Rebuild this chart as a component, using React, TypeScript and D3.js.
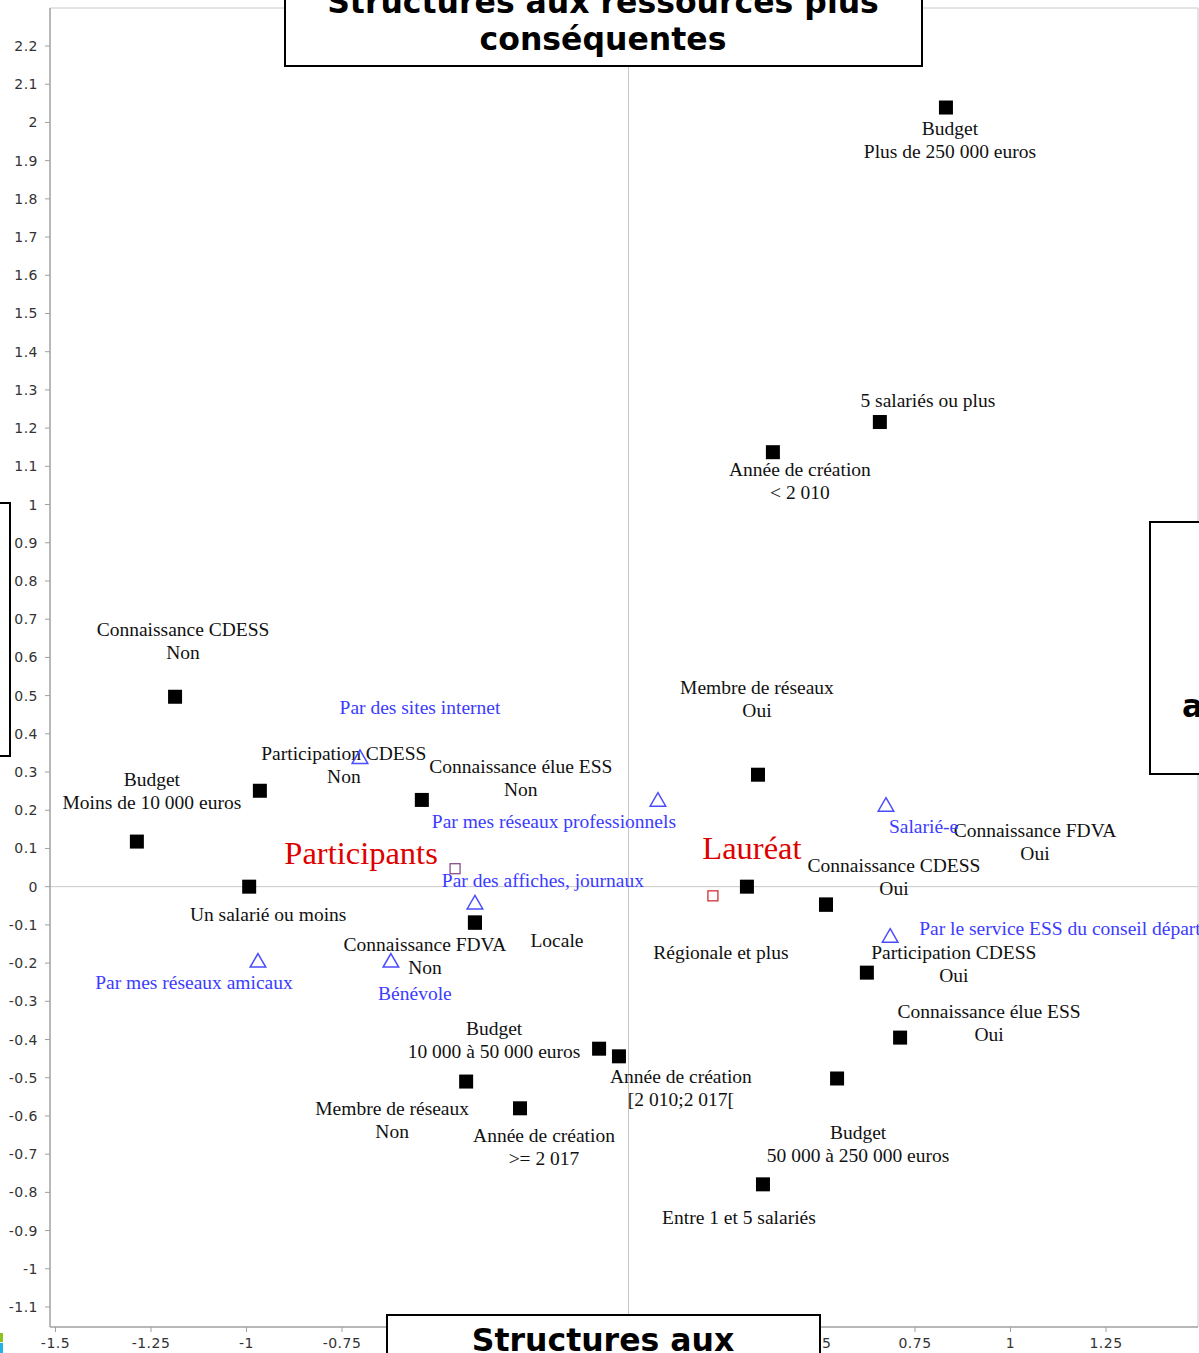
import React from "react";
import * as d3 from "d3";

// ---- Data (MCA coordinates) ----
const activeNames = [
  "Budget\nPlus de 250 000 euros",
  "5 salariés ou plus",
  "Année de création\n< 2 010",
  "Connaissance CDESS\nNon",
  "Membre de réseaux\nOui",
  "Budget\nMoins de 10 000 euros",
  "Participation CDESS\nNon",
  "Connaissance élue ESS\nNon",
  "Un salarié ou moins",
  "Régionale et plus",
  "Connaissance CDESS\nOui",
  "Connaissance FDVA\nOui",
  "Participation CDESS\nOui",
  "Connaissance élue ESS\nOui",
  "Budget\n10 000 à 50 000 euros",
  "Année de création\n[2 010;2 017[",
  "Membre de réseaux\nNon",
  "Année de création\n>= 2 017",
  "Budget\n50 000 à 250 000 euros",
  "Entre 1 et 5 salariés",
  "Connaissance FDVA\nNon",
  "Locale",
];
const activeX = [0.831, 0.658, 0.378, -1.187, 0.339, -1.287, -0.965, -0.541, -0.993, 0.310, 0.517, 0.517, 0.624, 0.711, -0.077, -0.025, -0.425, -0.284, 0.546, 0.352, -0.402, -0.402];
const activeY = [2.039, 1.216, 1.137, 0.497, 0.293, 0.118, 0.251, 0.227, 0.0, 0.0, -0.047, -0.047, -0.225, -0.395, -0.424, -0.444, -0.510, -0.580, -0.502, -0.779, -0.094, -0.094];

const suppNames = [
  "Par des sites internet",
  "Par mes réseaux professionnels",
  "Salarié-e",
  "Par des affiches, journaux",
  "Par le service ESS du conseil départemental",
  "Par mes réseaux amicaux",
  "Bénévole",
];
const suppX = [-0.703, 0.077, 0.674, -0.402, 0.685, -0.970, -0.622];
const suppY = [0.337, 0.225, 0.212, -0.044, -0.131, -0.196, -0.196];

const groupNames = ["Participants", "Lauréat"];
const groupX = [-0.454, 0.221];
const groupY = [0.047, -0.024];

const xTickValues = [-1.5, -1.25, -1, -0.75, -0.5, -0.25, 0, 0.25, 0.5, 0.75, 1, 1.25];
const yTickValues = d3.range(-11, 23).map((i) => i / 10);

const boxTop = ["Structures aux ressources plus", "conséquentes"];
const boxBottom = ["Structures aux"];
const boxRight = ["aux"];

// ---- Layout (label offsets in px from their point; anchor) ----
const activeLabelOffsets: [number, number][] = [
  [4, 21], [48, -22], [27, 17], [8, -67], [-1, -87], [15, -62], [84, -37], [99, -33],
  [19, 28], [-26, 66], [68, -39], [209, -74], [87, -20], [89, -26], [-105, -20], [62, 20],
  [-74, 27], [24, 27], [21, 54], [-24, 33], [-50, 22], [82, 18],
];
const suppLabelOffsets: [number, number, string][] = [
  [60, -50, "middle"], [-104, 21, "middle"], [3, 21, "start"], [68, -23, "middle"],
  [29, -8, "start"], [-64, 21, "middle"], [24, 32, "middle"],
];
const groupLabelOffsets: [number, number][] = [[-94, -16], [39, -48]];

const W = 1199;
const H = 1353;
const LEFT = 50, RIGHT = 1198, TOP = 8, BOTTOM = 1327;
const BB_X0 = 387, BB_X1 = 820;

const fmt = (v: number) => String(+v.toFixed(2));

export default function App() {
  const x = d3.scaleLinear().domain([-1.5, 1.25]).range([55.5, 1106]);
  const y = d3.scaleLinear().domain([-1.1, 2.2]).range([1307, 46]);

  const serif = "'Liberation Serif', 'Times New Roman', serif";
  const sans = "'DejaVu Sans', Verdana, sans-serif";
  const lineH = 23;
  const sq = 14;
  const tri = d3.symbol().type(d3.symbolTriangle).size(105);

  const multiline = (txt: string, cx: number, cy: number, anchor: string, color: string, size: number, key: string) => (
    <text key={key} x={cx} y={cy} textAnchor={anchor as any} fill={color} fontFamily={serif} fontSize={size}>
      {txt.split("\n").map((l, i) => (
        <tspan key={i} x={cx} y={cy + i * lineH} dominantBaseline="central">{l}</tspan>
      ))}
    </text>
  );

  // tick labels fully hidden behind the bottom annotation box are not drawn
  const visibleXTicks = xTickValues.filter((v) => x(v) + 12 < BB_X0 || x(v) > BB_X1 - 12);

  return (
    <svg width={W} height={H} style={{ position: "absolute", left: 0, top: 0, display: "block", background: "#fff" }}>
      <rect x={0} y={0} width={W} height={H} fill="#fff" />
      {/* frame */}
      <line x1={LEFT} x2={RIGHT} y1={TOP} y2={TOP} stroke="#c8c8c8" />
      <line x1={RIGHT} x2={RIGHT} y1={TOP} y2={BOTTOM} stroke="#c8c8c8" />
      {/* zero lines */}
      <line x1={x(0)} x2={x(0)} y1={TOP} y2={BOTTOM} stroke="#c8c8c8" />
      <line x1={LEFT} x2={RIGHT} y1={y(0)} y2={y(0)} stroke="#c8c8c8" />
      {/* axes */}
      <line x1={LEFT} x2={LEFT} y1={TOP} y2={BOTTOM} stroke="#a0a0a0" strokeWidth={1.5} />
      <line x1={LEFT} x2={RIGHT} y1={BOTTOM} y2={BOTTOM} stroke="#a0a0a0" strokeWidth={1.5} />
      {yTickValues.map((v) => (
        <g key={"yt" + v}>
          <line x1={LEFT - 5} x2={LEFT} y1={y(v)} y2={y(v)} stroke="#a0a0a0" />
          <text x={38} y={y(v)} textAnchor="end" dominantBaseline="central" fontFamily={sans} fontSize={14} letterSpacing={0.5} fill="#333">{fmt(v)}</text>
        </g>
      ))}
      {xTickValues.map((v) => (
        <line key={"xtl" + v} x1={x(v)} x2={x(v)} y1={BOTTOM} y2={BOTTOM + 5} stroke="#a0a0a0" />
      ))}
      {visibleXTicks.map((v) => (
        <text key={"xt" + v} x={x(v)} y={1343} textAnchor="middle" dominantBaseline="central" fontFamily={sans} fontSize={14} letterSpacing={0.5} fill="#333">{fmt(v)}</text>
      ))}

      {/* active modalities */}
      {activeNames.map((n, i) => (
        <rect key={"sq" + i} x={x(activeX[i]) - sq / 2} y={y(activeY[i]) - sq / 2} width={sq} height={sq} fill="#000" />
      ))}
      {activeNames.map((n, i) =>
        multiline(n, x(activeX[i]) + activeLabelOffsets[i][0], y(activeY[i]) + activeLabelOffsets[i][1], "middle", "#111", 19.5, "al" + i)
      )}

      {/* supplementary (blue triangles) */}
      {suppNames.map((n, i) => (
        <path key={"tr" + i} d={tri() as string} transform={`translate(${x(suppX[i])},${y(suppY[i]) + 1})`} fill="none" stroke="#4b4bff" strokeWidth={1.5} />
      ))}
      {suppNames.map((n, i) =>
        multiline(n, x(suppX[i]) + suppLabelOffsets[i][0], y(suppY[i]) + suppLabelOffsets[i][1], suppLabelOffsets[i][2], "#3c3cff", 19.5, "sl" + i)
      )}

      {/* groups */}
      <rect x={x(groupX[0]) - 5} y={y(groupY[0]) - 5} width={10} height={10} fill="none" stroke="#8a4f8a" strokeWidth={1.3} />
      <rect x={x(groupX[1]) - 5} y={y(groupY[1]) - 5} width={10} height={10} fill="none" stroke="#d03030" strokeWidth={1.3} />
      {groupNames.map((n, i) =>
        multiline(n, x(groupX[i]) + groupLabelOffsets[i][0], y(groupY[i]) + groupLabelOffsets[i][1], "middle", "#dd0000", 32.5, "gl" + i)
      )}

      {/* annotation boxes */}
      <rect x={285} y={-5} width={637} height={71} fill="#fff" stroke="#000" strokeWidth={2} />
      {boxTop.map((t, i) => (
        <text key={"bt" + i} x={603} y={13 + i * 37} textAnchor="middle" fontFamily={sans} fontWeight="bold" fontSize={31.5} fill="#000">{t}</text>
      ))}
      <rect x={BB_X0} y={1315} width={BB_X1 - BB_X0} height={60} fill="#fff" stroke="#000" strokeWidth={2} />
      {boxBottom.map((t, i) => (
        <text key={"bb" + i} x={603} y={1351 + i * 37} textAnchor="middle" fontFamily={sans} fontWeight="bold" fontSize={31.5} fill="#000">{t}</text>
      ))}
      <rect x={1150} y={522} width={80} height={252} fill="#fff" stroke="#000" strokeWidth={2} />
      {boxRight.map((t, i) => (
        <text key={"br" + i} x={1182} y={717} textAnchor="start" fontFamily={sans} fontWeight="bold" fontSize={31.5} fill="#000">{t}</text>
      ))}
      <rect x={-10} y={503} width={20} height={253} fill="none" stroke="#000" strokeWidth={2} />

      {/* slide edge marks */}
      <rect x={0} y={1333} width={3} height={9} fill="#8dc21f" />
      <rect x={0} y={1343} width={3} height={10} fill="#1fb4e6" />
    </svg>
  );
}
